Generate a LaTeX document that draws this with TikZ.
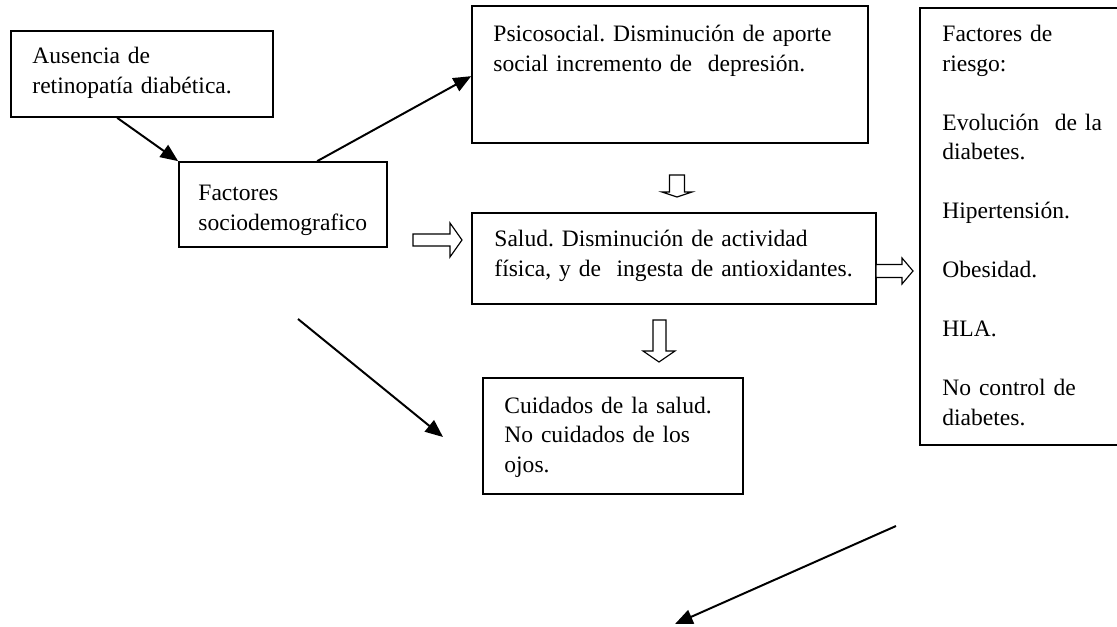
\documentclass[tikz,border=0pt]{standalone}
\usepackage{fontspec}
\setmainfont{Liberation Serif}
\usetikzlibrary{positioning, arrows.meta, fit, calc}
\frenchspacing

\begin{document}
\begin{tikzpicture}[x=0.48pt, y=-0.48pt,
  box/.style={rectangle, draw=black, line width=0.8pt, inner sep=0pt},
  txt/.style={anchor=base west, inner sep=0pt, align=left, text width=#1, font=\fontsize{11.3}{14.16}\selectfont},
  txt/.default=230pt,
  arrow/.style={-{Triangle[length=8.5pt, width=7pt]}, line width=0.95pt},
  hollow/.style={draw=black, line width=0.55pt, fill=white}
]
\useasboundingbox (0,0) rectangle (1117,627);

% Boxes
\node[box, fit={(11,31) (273,117)}] (ausencia) {};
\node[box, fit={(179,162) (387,247)}] (socio) {};
\node[box, fit={(472,6) (868,143)}] (psico) {};
\node[box, fit={(472,213) (876,304)}] (salud) {};
\node[box, fit={(483,378) (743,494)}] (cuidados) {};
\node[box, fit={(920,8) (1140,445)}] (riesgo) {};

% Texts
\node[txt] (ausenciaTxt) at (32,64) {Ausencia de\\retinopatía diabética.};
\node[txt] (socioTxt) at (198,201) {Factores\\sociodemografico};
\node[txt] (psicoTxt) at (493,42) {Psicosocial. Disminución de aporte\\social incremento de\ \ depresión.};
\node[txt] (saludTxt) at (494,247) {Salud. Disminución de actividad\\física, y de\ \ ingesta de antioxidantes.};
\node[txt] (cuidadosTxt) at (504,413) {Cuidados de la salud.\\No cuidados de los\\ojos.};
\node[txt] (riesgoTxt) at (942,42) {Factores de\\riesgo:\\[14.16pt]Evolución\ \ de la\\diabetes.\\[14.16pt]Hipertensión.\\[14.16pt]Obesidad.\\[14.16pt]HLA.\\[14.16pt]No control de\\diabetes.};

% Solid arrows
\draw[arrow] ($(ausencia.south west)+(107,0)$) -- (socio.north west);
\draw[arrow] ($(socio.north west)+(139,0)$) -- ($(psico.north west)+(0,71)$);

\coordinate (leftStart) at (298,319);
\coordinate (leftEnd) at (443,437);
\draw[arrow] (leftStart) -- (leftEnd);

\coordinate (bottomStart) at (896,526);
\coordinate (bottomEnd) at (675,624);
\draw[arrow] (bottomStart) -- (bottomEnd);

% Hollow arrows
\draw[hollow] (413,234) -- (450,234) -- (450,223) -- (462,240) -- (450,257) -- (450,246) -- (413,246) -- cycle;
\draw[hollow] (669.5,175) -- (684.5,175) -- (684.5,192) -- (692,192) -- (677,197) -- (662,192) -- (669.5,192) -- cycle;
\draw[hollow] (653,320) -- (666,320) -- (666,351) -- (675,351) -- (659,362) -- (643,351) -- (653,351) -- cycle;
\draw[hollow] (876,264.5) -- (902,264.5) -- (902,258) -- (913,271) -- (902,284) -- (902,277.5) -- (876,277.5) -- cycle;

\end{tikzpicture}
\end{document}
